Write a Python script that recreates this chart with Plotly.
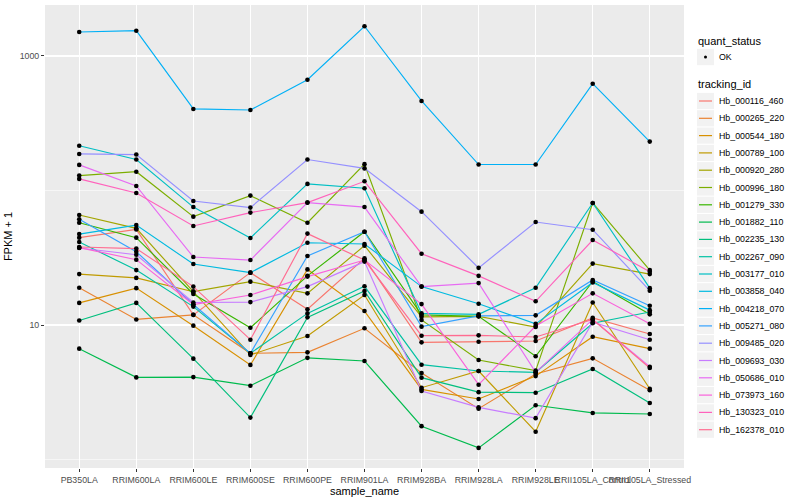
import plotly.graph_objects as go

samples = ["PB350LA", "RRIM600LA", "RRIM600LE", "RRIM600SE", "RRIM600PE", "RRIM901LA",
           "RRIM928BA", "RRIM928LA", "RRIM928LE", "RRII105LA_Control", "RRII105LA_Stressed"]

tracking_ids = ["Hb_000116_460", "Hb_000265_220", "Hb_000544_180", "Hb_000789_100", "Hb_000920_280",
                "Hb_000996_180", "Hb_001279_330", "Hb_001882_110", "Hb_002235_130", "Hb_002267_090",
                "Hb_003177_010", "Hb_003858_040", "Hb_004218_070", "Hb_005271_080", "Hb_009485_020",
                "Hb_009693_030", "Hb_050686_010", "Hb_073973_160", "Hb_130323_010", "Hb_162378_010"]

line_colors = ["#F8766D", "#EA8331", "#D89000", "#C09B00", "#A3A500", "#7CAE00", "#39B600", "#00BB4E",
               "#00BF7D", "#00C1A3", "#00BFC4", "#00BAE0", "#00B0F6", "#35A2FF", "#9590FF", "#C77CFF",
               "#E76BF3", "#FA62DB", "#FF62BC", "#FF6C91"]

# FPKM + 1 per sample (order of `samples`)
hb_000116_460 = [44.6, 51.4, 11.9, 24.5, 13.1, 31.3, 7.43, 7.51, 7.60, 11.3, 8.57]
hb_000265_220 = [18.9, 11.0, 11.9, 6.16, 6.26, 9.45, 4.40, 2.39, 4.32, 5.65, 3.27]
hb_000544_180 = [14.6, 18.8, 9.89, 5.05, 25.9, 12.7, 3.32, 2.82, 4.17, 8.19, 6.67]
hb_000789_100 = [23.9, 22.4, 17.7, 5.99, 8.29, 16.7, 3.42, 4.55, 1.61, 14.7, 3.36]
hb_000920_280 = [65.8, 52.3, 17.7, 21.0, 17.2, 38.9, 11.5, 11.6, 9.66, 28.6, 23.9]
hb_000996_180 = [129, 138, 63.9, 91.6, 57.6, 157, 10.9, 5.49, 4.58, 80.8, 25.6]
hb_001279_330 = [57.6, 44.6, 17.0, 9.55, 23.2, 49.4, 11.9, 11.6, 5.86, 21.1, 12.0]
hb_001882_110 = [6.67, 4.08, 4.10, 3.54, 5.70, 5.40, 1.77, 1.22, 2.53, 2.22, 2.18]
hb_002235_130 = [10.8, 14.6, 5.62, 2.05, 11.4, 17.9, 4.06, 3.17, 3.14, 4.71, 2.63]
hb_002267_090 = [41.4, 25.6, 13.7, 6.16, 12.2, 19.4, 5.07, 4.55, 4.45, 10.3, 12.5]
hb_003177_010 = [215, 170, 75.3, 44.4, 112, 104, 12.2, 12.0, 18.9, 80.8, 18.8]
hb_003858_040 = [47.4, 55.3, 28.4, 24.5, 40.9, 40.0, 19.3, 14.4, 10.2, 20.7, 12.9]
hb_004218_070 = [1507, 1542, 404, 397, 666, 1663, 463, 156, 156, 622, 231]
hb_005271_080 = [61.0, 35.1, 14.2, 6.16, 32.6, 49.4, 9.72, 11.7, 11.8, 21.6, 13.9]
hb_009485_020 = [187, 185, 83.6, 74.6, 170, 146, 69.6, 26.6, 58.3, 51.1, 18.0]
hb_009693_030 = [37.4, 33.3, 14.7, 14.8, 19.3, 29.6, 3.23, 2.44, 2.03, 10.5, 7.78]
hb_050686_010 = [155, 108, 32.0, 30.4, 81.3, 75.3, 19.3, 20.5, 4.45, 11.0, 4.90]
hb_073973_160 = [37.6, 30.6, 14.2, 16.7, 22.9, 30.4, 14.3, 3.60, 9.83, 17.2, 10.2]
hb_130323_010 = [122, 95.9, 54.5, 68.5, 81.3, 117, 33.9, 23.2, 15.0, 42.8, 24.9]
hb_162378_010 = [38.0, 37.0, 19.3, 7.78, 47.8, 30.4, 8.33, 8.38, 8.14, 11.0, 4.79]

series_values = [hb_000116_460, hb_000265_220, hb_000544_180, hb_000789_100, hb_000920_280,
                 hb_000996_180, hb_001279_330, hb_001882_110, hb_002235_130, hb_002267_090,
                 hb_003177_010, hb_003858_040, hb_004218_070, hb_005271_080, hb_009485_020,
                 hb_009693_030, hb_050686_010, hb_073973_160, hb_130323_010, hb_162378_010]

y_tick_values = [10, 1000]
y_tick_labels = ["10", "1000"]
y_minor_values = [1, 100]

FONT = "Liberation Sans, Arial, Helvetica, sans-serif"
W, H = 800, 500
PL, PR, PT, PB = 45, 684, 5, 468   # panel box in pixels


def px_x(px):
    return (px - PL) / (PR - PL)


def px_y(py):
    return (PB - py) / (PB - PT)


fig = go.Figure()

for tid, col, vals in zip(tracking_ids, line_colors, series_values):
    fig.add_trace(go.Scatter(x=samples, y=vals, mode="lines", name=tid,
                             line=dict(color=col, width=1.15), hoverinfo="skip"))

all_x, all_y = [], []
for vals in series_values:
    all_x += samples
    all_y += vals
fig.add_trace(go.Scatter(x=all_x, y=all_y, mode="markers", name="OK",
                         marker=dict(color="black", size=4.6)))

# ---- ggplot-style legend ----
shapes, annots = [], []
key_l, key_r = 697, 714
text_x = 716.5


def add_text(txt, x, y, size, color="black"):
    annots.append(dict(text=txt, x=px_x(x), y=px_y(y), xref="paper", yref="paper",
                       xanchor="left", yanchor="middle", showarrow=False,
                       font=dict(size=size, color=color, family=FONT)))


add_text("quant_status", 695.5, 40.7, 11)
shapes.append(dict(type="rect", xref="paper", yref="paper", x0=px_x(key_l), x1=px_x(key_r),
                   y0=px_y(57 - 8.2), y1=px_y(57 + 8.2), fillcolor="#F2F2F2", line=dict(width=0),
                   layer="above"))
shapes.append(dict(type="circle", xref="paper", yref="paper", x0=px_x(704), x1=px_x(707),
                   y0=px_y(55.5), y1=px_y(58.5), fillcolor="black", line=dict(width=0),
                   layer="above"))
add_text("OK", text_x, 57, 8.8)

add_text("tracking_id", 695.5, 84, 11)
row0, step = 101.0, 17.3
for i, (tid, col) in enumerate(zip(tracking_ids, line_colors)):
    cy = row0 + i * step
    shapes.append(dict(type="rect", xref="paper", yref="paper", x0=px_x(key_l), x1=px_x(key_r),
                       y0=px_y(cy - 8.1), y1=px_y(cy + 8.1), fillcolor="#F2F2F2",
                       line=dict(width=0), layer="above"))
    shapes.append(dict(type="line", xref="paper", yref="paper", x0=px_x(699), x1=px_x(712),
                       y0=px_y(cy), y1=px_y(cy), line=dict(color=col, width=1.2), layer="above"))
    add_text(tid, text_x, cy, 8.8)

fig.update_layout(
    width=W, height=H,
    margin=dict(l=PL, r=W - PR, t=PT, b=H - PB),
    plot_bgcolor="#EBEBEB", paper_bgcolor="white",
    showlegend=False,
    font=dict(family=FONT),
    shapes=shapes, annotations=annots,
    xaxis=dict(type="category", categoryorder="array", categoryarray=samples,
               range=[-0.6, 10.6], showgrid=True, gridcolor="white", gridwidth=1.1,
               zeroline=False, showline=False, ticks="outside", ticklen=3, tickwidth=1,
               tickcolor="#333333", tickfont=dict(size=8.8, color="#4D4D4D", family=FONT),
               tickangle=0,
               title=dict(text="sample_name", font=dict(size=11, color="black", family=FONT),
                          standoff=3),
               automargin=False),
    yaxis=dict(type="log", range=[-0.063, 3.379], tickmode="array", tickvals=y_tick_values,
               ticktext=y_tick_labels, showgrid=True, gridcolor="white", gridwidth=1.1,
               minor=dict(tickmode="array", tickvals=y_minor_values, showgrid=True,
                          gridcolor="white", gridwidth=0.55, ticks=""),
               zeroline=False, showline=False, ticks="outside", ticklen=3, tickwidth=1,
               tickcolor="#333333", tickfont=dict(size=8.8, color="#4D4D4D", family=FONT),
               title=dict(text="FPKM + 1", font=dict(size=11, color="black", family=FONT),
                          standoff=4),
               automargin=False),
)

fig.write_html("out.html", config={"displayModeBar": False, "staticPlot": True},
               post_script="document.body.style.margin='0px';document.body.style.overflow='hidden';")
